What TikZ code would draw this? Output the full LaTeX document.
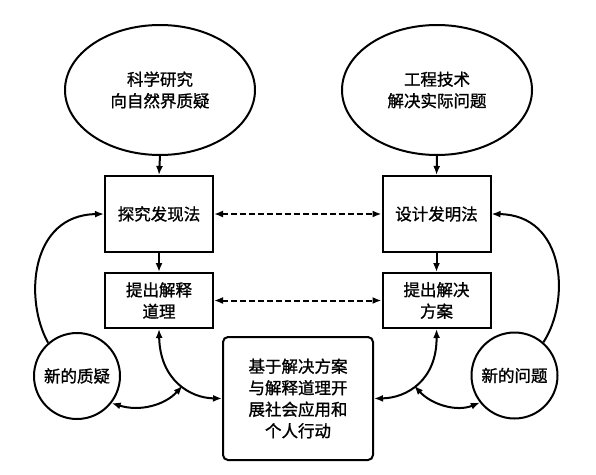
\documentclass[tikz,border=0pt]{standalone}
\usepackage{fontspec}
\setmainfont{Noto Sans CJK SC}[FakeBold=1.2]
\usetikzlibrary{arrows.meta,shapes.geometric}
\begin{document}
\begin{tikzpicture}[x=1pt,y=-1pt,
  every node/.style={font=\fontsize{16.5}{21.5}\selectfont, align=center, inner sep=0pt, line width=2pt},
  ell/.style={draw, ellipse, minimum width=190pt, minimum height=130pt},
  boxnode/.style={draw, rectangle, minimum width=108pt},
  rbox/.style={draw, rectangle, rounded corners=5pt, minimum width=150pt, minimum height=123pt},
  circ/.style={draw, circle, minimum size=86pt},
  conn/.style={line width=2pt, -{Latex[length=9pt,width=7pt]}},
  dconn/.style={line width=2pt, {Latex[length=9pt,width=7pt]}-{Latex[length=9pt,width=7pt]}},
  dashconn/.style={dconn, dash pattern=on 6pt off 3pt}
]
\useasboundingbox (0,0) rectangle (596,474);

\node[ell] (e1) at (160,90) {科学研究\\向自然界质疑};
\node[ell] (e2) at (437,90) {工程技术\\解决实际问题};

\node[boxnode, minimum height=76pt] (b1) at (159,214) {探究发现法};
\node[boxnode, minimum height=76pt] (b2) at (436.5,214) {设计发明法};
\node[boxnode, minimum height=55pt] (b3) at (159,300.5) {提出解释\\道理};
\node[boxnode, minimum height=55pt] (b4) at (436.5,300.5) {提出解决\\方案};

\node[rbox] (cb) at (298,398.5) {基于解决方案\\与解释道理开\\展社会应用和\\个人行动};

\node[circ] (c1) at (77,376) {新的质疑};
\node[circ] (c2) at (514.5,375.5) {新的问题};

% vertical arrows
\draw[conn] (e1.south) -- (b1.north);
\draw[conn] (e2.south) -- (b2.north);
\draw[conn] (b1.south) -- (b3.north);
\draw[conn] (b2.south) -- (b4.north);

% dashed
\draw[dashconn] (b1.east) -- (b2.west);
\draw[dashconn] (b3.east) -- (b4.west);

% big arcs
\draw[conn] (c1.131) .. controls (24,300) and (30,215) .. (b1.west);
\draw[conn] (c2.49) .. controls (571,300) and (565,215) .. (b2.east);

% bottom curves
\draw[dconn] (b3.south) .. controls (160,380) and (190,398) .. coordinate[pos=0.55] (m1) (cb.west);
\draw[dconn] (b4.south) .. controls (437,380) and (407,398) .. coordinate[pos=0.55] (m2) (cb.east);

\draw[dconn] (c1.-38) .. controls (140,412) and (165,405) .. (m1);
\draw[dconn] (c2.218) .. controls (457,412) and (432,405) .. (m2);
\end{tikzpicture}
\end{document}
